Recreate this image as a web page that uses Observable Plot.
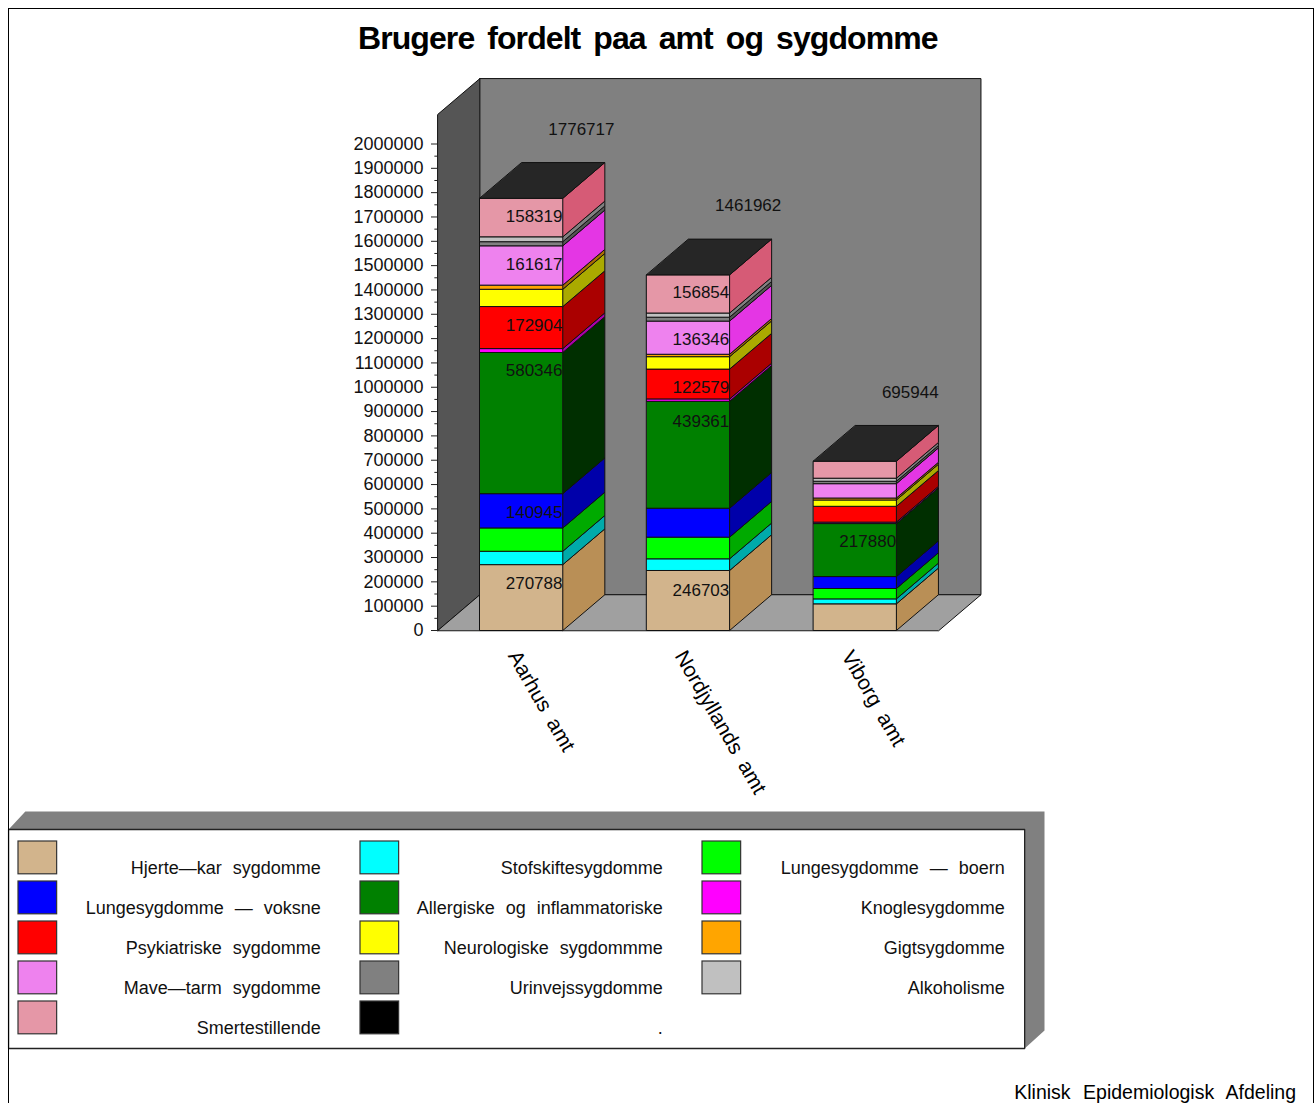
<!DOCTYPE html>
<html lang="da">
<head>
<meta charset="utf-8">
<script src="https://cdn.jsdelivr.net/npm/d3@7"></script>
<script src="https://cdn.jsdelivr.net/npm/@observablehq/plot@0.6"></script>
<style>
  html, body { margin: 0; padding: 0; background: #fff; overflow: hidden; }
  #page { position: relative; width: 1315px; height: 1103px; overflow: hidden; font-family: "Liberation Sans", sans-serif; color: #000; }
  #frame { position: absolute; left: 8px; top: 8px; width: 1304px; height: 1200px; border: 1.5px solid #000; pointer-events: none; }
  #title { height: 60px; box-sizing: border-box; padding: 19px 0 0 0; margin-left: 358px; font-size: 32px; line-height: 38px; font-weight: bold; word-spacing: 5px; white-space: nowrap; letter-spacing: -0.92px; }
  #chart svg, #legend svg { display: block; background: transparent; }
  #chart text { word-spacing: 5px; }
  #legend text { word-spacing: 6px; }
  #caption { position: absolute; top: 1082px; right: 19px; font-size: 19.5px; line-height: 21px; word-spacing: 7px; white-space: nowrap; }
</style>
</head>
<body>
<div id="page">
  <div id="title">Brugere fordelt paa amt og sygdomme</div>
  <div id="chart"></div>
  <div id="legend"></div>
  <div id="caption">Klinisk Epidemiologisk Afdeling</div>
  <div id="frame"></div>
</div>
<script>
const cities = ["Aarhus amt", "Nordjyllands amt", "Viborg amt"];
const categories = ["Hjerte—kar sygdomme", "Stofskiftesygdomme", "Lungesygdomme — boern", "Lungesygdomme — voksne", "Allergiske og inflammatoriske", "Knoglesygdomme", "Psykiatriske sygdomme", "Neurologiske sygdommme", "Gigtsygdomme", "Mave—tarm sygdomme", "Urinvejssygdomme", "Alkoholisme", "Smertestillende", "."];
const frontColors = ["#d2b48c", "#00ffff", "#00ff00", "#0000ff", "#008000", "#ff00ff", "#ff0000", "#ffff00", "#ffa500", "#ee82ee", "#808080", "#c0c0c0", "#e597a7", "#000000"];
const sideColors = ["#b98f56", "#00aaaa", "#00aa00", "#0000aa", "#002f00", "#aa00aa", "#aa0000", "#aaaa00", "#aa6e00", "#e436e4", "#555555", "#808080", "#d65b76", "#000000"];

const aarhus = [270788, 55000, 95800, 140945, 580346, 16000, 172904, 71000, 17000, 161617, 17000, 19998, 158319, 0];
const nordjylland = [246703, 48000, 89000, 119000, 439361, 10000, 122579, 51000, 10000, 136346, 16000, 17119, 156854, 0];
const viborg = [109600, 20400, 42600, 49100, 217880, 6000, 65000, 26000, 8000, 59000, 10000, 12564, 69800, 0];
const series = [aarhus, nordjylland, viborg];

const totals = [1776717, 1461962, 695944];
const totalHeights = [2057500, 1745000, 977000];
const printedCity = [0, 0, 0, 0, 0, 0, 1, 1, 1, 1, 1, 2];
const printedValue = [270788, 140945, 580346, 172904, 161617, 158319, 246703, 439361, 122579, 136346, 156854, 217880];
const printedHeight = [193000, 484600, 1067800, 1252600, 1503000, 1700000, 164000, 858000, 998000, 1195000, 1388000, 365500];

const yTicks = d3.range(0, 2000001, 100000);
const yMinor = d3.range(50000, 2000000, 100000);

// chart geometry, in scale units
const barW = 0.497, depthX = 0.252, depthY = 147000, wallTop = 2122000, wallRight = 2.752;

const polys = [];
let pid = 0;
function poly(paint, pts) {
  const id = pid++;
  for (const [x, y] of pts) polys.push({id, paint, x, y});
}
poly("#808080", [[0, depthY], [wallRight + depthX, depthY], [wallRight + depthX, wallTop + depthY], [0, wallTop + depthY]]);
poly("#555555", [[-depthX, 0], [0, depthY], [0, wallTop + depthY], [-depthX, wallTop]]);
poly("#a0a0a0", [[-depthX, 0], [0, depthY], [wallRight + depthX, depthY], [wallRight, 0]]);
series.forEach((vals, c) => {
  let y0 = 0;
  vals.forEach((v, k) => {
    if (v <= 0) return;
    const y1 = y0 + v;
    poly(sideColors[k], [[c + barW, y0], [c + barW + depthX, y0 + depthY], [c + barW + depthX, y1 + depthY], [c + barW, y1]]);
    poly(frontColors[k], [[c, y0], [c + barW, y0], [c + barW, y1], [c, y1]]);
    y0 = y1;
  });
  poly("#262626", [[c, y0], [c + barW, y0], [c + barW + depthX, y0 + depthY], [c + depthX, y0 + depthY]]);
});

const font = {fontFamily: "Liberation Sans, sans-serif"};
const printed = printedValue.map((v, i) => ({c: printedCity[i], v, h: printedHeight[i]}));
const sums = totals.map((v, c) => ({c, v, h: totalHeights[c]}));
const names = cities.map((name, c) => ({c, name}));

const chart = Plot.plot({
  width: 1315, height: 745,
  marginLeft: 437, marginRight: 0, marginTop: 83.5, marginBottom: 175,
  style: {background: "transparent", ...font},
  x: {axis: null, domain: [0, 2], range: [479.4, 813]},
  y: {axis: null, domain: [0, 2000000], range: [570, 83.5]},
  color: {type: "identity"},
  marks: [
    Plot.line(polys, {x: "x", y: "y", z: "id", fill: "paint", stroke: "#111", strokeWidth: 1, curve: "linear-closed"}),
    Plot.ruleY(yMinor, {x1: -depthX - 0.018, x2: -depthX, stroke: "#222", strokeWidth: 1}),
    Plot.axisY({ticks: yTicks, tickSize: 6, tickPadding: 8, tickFormat: "d", label: null, fontSize: 18, stroke: "#222", fill: "#111"}),
    Plot.text(printed, {x: d => d.c + 0.155, y: "h", text: d => String(d.v), textAnchor: "start", lineAnchor: "middle", fontSize: 17, fill: "#111"}),
    Plot.text(sums, {x: d => d.c + 0.41, y: "h", text: d => String(d.v), textAnchor: "start", lineAnchor: "middle", fontSize: 17, fill: "#111"}),
    Plot.text(names, {x: d => d.c + 0.2, y: -90000, text: "name", rotate: 60, textAnchor: "start", lineAnchor: "middle", fontSize: 21, fill: "#000"})
  ]
});
document.getElementById("chart").append(chart);

// legend
const legendRows = categories.map((name, i) => ({name, paint: frontColors[i], col: i % 3, row: Math.floor(i / 3)}));
const box = [];
[["#808080", [[-0.029, -0.3], [0.02, -0.75], [3, -0.75], [3, 4.725], [2.942, 5.175], [2.942, -0.3]], "none"],
 ["#ffffff", [[-0.029, -0.3], [2.942, -0.3], [2.942, 5.175], [-0.029, 5.175]], "#222"]
].forEach(([paint, pts, line], id) => pts.forEach(([x, y]) => box.push({id, paint, line, x, y})));

const legend = Plot.plot({
  width: 1315, height: 250,
  margin: 0,
  style: {background: "transparent", ...font},
  x: {axis: null, domain: [0, 3], range: [18, 1044]},
  y: {axis: null, domain: [0, 5], range: [36, 236]},
  color: {type: "identity"},
  marks: [
    Plot.line(box, {x: "x", y: "y", z: "id", fill: "paint", stroke: "line", strokeWidth: 1.3, curve: "linear-closed"}),
    Plot.rect(legendRows, {x1: d => d.col, x2: d => d.col + 0.113, y1: "row", y2: d => d.row + 0.82, fill: "paint", stroke: "#333", strokeWidth: 1.2}),
    Plot.text(legendRows, {x: d => d.col + 0.884, y: d => d.row + 0.66, text: "name", textAnchor: "end", lineAnchor: "middle", fontSize: 18, fill: "#111"})
  ]
});
document.getElementById("legend").append(legend);
</script>
</body>
</html>
